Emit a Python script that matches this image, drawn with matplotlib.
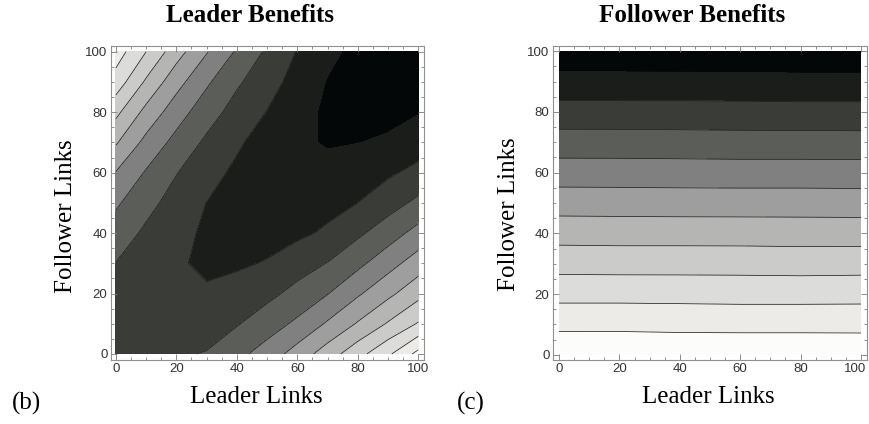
import numpy as np
import matplotlib
matplotlib.use("Agg")
import matplotlib.pyplot as plt
from matplotlib.ticker import MultipleLocator
from matplotlib.transforms import ScaledTranslation

# ---------------- data ----------------
# Leader Benefits: grid values (band units, 0 = darkest band, 10 = lightest band)
leader_x = [0, 10, 20, 30, 40, 50, 60, 70, 80, 90, 100]
leader_y = [0, 10, 20, 30, 40, 50, 60, 70, 80, 90, 100]
# rows = follower links (y), columns = leader links (x)
leader_benefit = [
    [2.75, 2.85, 2.90, 3.05, 3.71, 4.45, 5.42, 6.50, 7.65, 8.82, 10.30],  # y=0
    [2.80, 2.60, 2.45, 2.60, 2.93, 3.51, 4.20, 5.12, 6.09, 7.09, 8.08],   # y=10
    [2.90, 2.65, 2.25, 2.10, 2.40, 2.75, 3.29, 3.96, 4.86, 5.75, 6.68],   # y=20
    [2.98, 2.55, 2.10, 1.85, 1.85, 2.07, 2.58, 3.03, 3.75, 4.61, 5.49],   # y=30
    [3.54, 2.82, 2.29, 1.85, 1.65, 1.60, 1.80, 2.15, 2.82, 3.52, 4.35],   # y=40
    [4.15, 3.31, 2.61, 1.99, 1.60, 1.45, 1.50, 1.70, 2.00, 2.59, 3.22],   # y=50
    [4.96, 3.91, 3.04, 2.37, 1.80, 1.45, 1.30, 1.35, 1.55, 1.85, 2.27],   # y=60
    [6.11, 4.71, 3.69, 2.82, 2.15, 1.55, 1.20, 0.90, 0.98, 1.12, 1.53],   # y=70
    [7.25, 5.70, 4.45, 3.43, 2.62, 1.97, 1.30, 0.85, 0.70, 0.75, 0.95],   # y=80
    [8.57, 6.85, 5.36, 4.16, 3.14, 2.42, 1.61, 0.95, 0.60, 0.55, 0.65],   # y=90
    [9.50, 8.00, 6.42, 5.07, 3.88, 2.84, 1.95, 1.22, 0.75, 0.50, 0.45],   # y=100
]

# Follower Benefits
follower_x = [0, 20, 40, 60, 80, 100]
follower_y = [0, 10, 20, 30, 40, 50, 60, 70, 80, 90, 100]
follower_benefit = [
    [10.81, 10.80, 10.78, 10.77, 10.77, 10.77],
    [9.76, 9.76, 9.72, 9.71, 9.71, 9.70],
    [8.68, 8.68, 8.67, 8.64, 8.64, 8.66],
    [7.63, 7.61, 7.61, 7.61, 7.58, 7.60],
    [6.60, 6.58, 6.58, 6.57, 6.55, 6.55],
    [5.55, 5.54, 5.52, 5.52, 5.52, 5.50],
    [4.50, 4.49, 4.48, 4.46, 4.46, 4.45],
    [3.45, 3.45, 3.43, 3.41, 3.41, 3.40],
    [2.40, 2.39, 2.39, 2.37, 2.35, 2.35],
    [1.34, 1.34, 1.33, 1.33, 1.30, 1.30],
    [0.27, 0.26, 0.25, 0.23, 0.21, 0.20],
]

band_levels = [0, 1, 2, 3, 4, 5, 6, 7, 8, 9, 10, 11]
band_colors = ["#040707", "#1a1d1a", "#3a3c37", "#5b5d58", "#808080",
               "#9e9e9e", "#b5b5b4", "#cbcbc9", "#dcdcda", "#ecebe8", "#fcfcfb"]
tick_values = [0, 20, 40, 60, 80, 100]

titles = ["Leader Benefits", "Follower Benefits"]
xlabel = "Leader Links"
ylabel = "Follower Links"
panel_tags = ["(b)", "(c)"]

# ---------------- figure ----------------
W, H = 870, 424
fig = plt.figure(figsize=(W / 100, H / 100), dpi=100)
fig.patch.set_facecolor("white")

serif = ["Liberation Serif", "DejaVu Serif"]
sans = ["Liberation Sans", "DejaVu Sans"]


def px_axes(x0, y0, x1, y1):
    return fig.add_axes([x0 / W, 1 - y1 / H, (x1 - x0) / W, (y1 - y0) / H])


def style(ax, xlim, ylim):
    ax.set_xlim(*xlim)
    ax.set_ylim(*ylim)
    ax.set_facecolor("white")
    for s in ax.spines.values():
        s.set_color("#909090")
        s.set_linewidth(0.8)
    ax.set_xticks(tick_values)
    ax.set_yticks(tick_values)
    ax.xaxis.set_minor_locator(MultipleLocator(5))
    ax.yaxis.set_minor_locator(MultipleLocator(5))
    ax.tick_params(which="both", direction="in", top=True, right=True,
                   color="#7a7a7a", width=0.6)
    ax.tick_params(which="major", length=4, pad=2.5, labelsize=9.5,
                   labelcolor="#333333")
    ax.tick_params(which="minor", length=2)
    for lab in ax.get_xticklabels() + ax.get_yticklabels():
        lab.set_family(sans)


# Leader panel
ax1 = px_axes(111, 46, 424, 360)
X1, Y1 = np.meshgrid(leader_x, leader_y)
Z1 = np.array(leader_benefit)
ax1.contourf(X1, Y1, Z1, levels=band_levels, colors=band_colors)
ax1.contour(X1, Y1, Z1, levels=band_levels[1:-1], colors="#1e1e1e",
            linewidths=0.55)
style(ax1, (-1.6, 101.9), (-2.0, 101.9))

# Follower panel
ax2 = px_axes(553, 46, 867, 360)
X2, Y2 = np.meshgrid(follower_x, follower_y)
Z2 = np.array(follower_benefit)
ax2.contourf(X2, Y2, Z2, levels=band_levels, colors=band_colors)
ax2.contour(X2, Y2, Z2, levels=band_levels[1:-1], colors="#1e1e1e",
            linewidths=0.55)
style(ax2, (-2.0, 102.0), (-1.7, 101.7))

# keep the last x tick label of the right panel inside the image
last_tick = ax2.xaxis.get_major_ticks()[-1]
last_tick.label1.set_transform(
    last_tick.label1.get_transform()
    + ScaledTranslation(-0.06, 0, fig.dpi_scale_trans))

# Titles and labels
fig.text(250 / W, 1 - 22 / H, titles[0], ha="center", va="baseline",
         fontsize=18, fontweight="bold", family=serif)
fig.text(692 / W, 1 - 22 / H, titles[1], ha="center", va="baseline",
         fontsize=18, fontweight="bold", family=serif)

fig.text(256 / W, 1 - 403 / H, xlabel, ha="center", va="baseline",
         fontsize=18, family=serif)
fig.text(708 / W, 1 - 403 / H, xlabel, ha="center", va="baseline",
         fontsize=18, family=serif)

fig.text(72 / W, 1 - 216 / H, ylabel, ha="center", va="baseline",
         rotation=90, rotation_mode="anchor", fontsize=18, family=serif)
fig.text(515 / W, 1 - 214 / H, ylabel, ha="center", va="baseline",
         rotation=90, rotation_mode="anchor", fontsize=18, family=serif)

fig.text(12 / W, 1 - 410 / H, panel_tags[0], ha="left", va="baseline",
         fontsize=18, family=serif)
fig.text(457 / W, 1 - 410 / H, panel_tags[1], ha="left", va="baseline",
         fontsize=18, family=serif)

fig.savefig("out.png", dpi=100, facecolor="white")
